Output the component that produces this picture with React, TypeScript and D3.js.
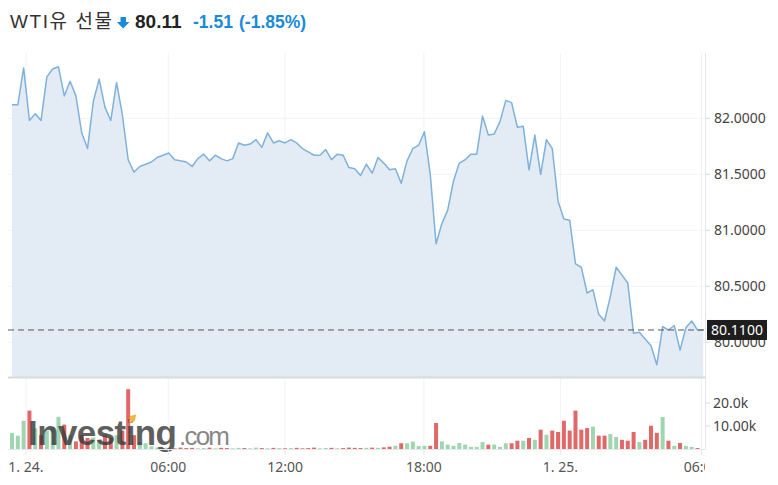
import React from "react";
import * as d3 from "d3";

// ---- data ----
const prices: number[] = [
  82.12, 82.12, 82.45, 81.98, 82.04, 81.98, 82.37, 82.44, 82.46, 82.2,
  82.33, 82.2, 81.87, 81.73, 82.15, 82.35, 82.1, 81.98, 82.32, 82.03,
  81.63, 81.52, 81.57, 81.59, 81.61, 81.65, 81.67, 81.69, 81.63, 81.62,
  81.61, 81.57, 81.64, 81.68, 81.62, 81.67, 81.64, 81.62, 81.64, 81.78,
  81.76, 81.77, 81.81, 81.74, 81.87, 81.78, 81.8, 81.78, 81.81, 81.78,
  81.73, 81.7, 81.67, 81.67, 81.72, 81.63, 81.68, 81.67, 81.56, 81.55,
  81.49, 81.59, 81.51, 81.65, 81.6, 81.54, 81.55, 81.42, 81.62, 81.73,
  81.76, 81.88, 81.5, 80.88, 81.06, 81.18, 81.44, 81.6, 81.63, 81.68,
  81.68, 82.02, 81.85, 81.86, 81.97, 82.16, 82.14, 81.92, 81.93, 81.54,
  81.85, 81.5, 81.81, 81.73, 81.26, 81.1, 81.09, 80.7, 80.67, 80.44,
  80.47, 80.25, 80.19, 80.41, 80.67, 80.6, 80.53, 80.08, 80.09, 80.03,
  79.97, 79.8, 80.14, 80.11, 80.15, 79.93, 80.13, 80.19, 80.11, 80.11,
];

const volumes: number[] = [
  7000, 5800, 12300, 16700, 9000, 6000, 8000, 9500, 14000, 10600,
  6000, 3300, 6000, 4800, 5000, 4000, 6000, 5000, 6000, 8000,
  26000, 6000, 3000, 2500, 1200, 600, 400, 500, 300, 600,
  400, 500, 300, 400, 600, 300, 500, 400, 300, 500,
  400, 300, 600, 400, 300, 500, 400, 300, 400, 500,
  300, 400, 600, 300, 400, 500, 300, 400, 600, 500,
  400, 500, 600, 500, 700, 1000, 1400, 2500, 2500, 3200,
  1300, 1400, 1400, 11300, 3300, 1900, 1400, 2600, 1900, 900,
  900, 3000, 1900, 1900, 900, 2500, 2500, 3600, 3600, 4800,
  4000, 8400, 6200, 8000, 7400, 12300, 8000, 16700, 8400, 9100,
  9700, 5800, 5800, 6500, 5200, 4000, 3600, 7400, 3000, 4000,
  10100, 7000, 13900, 3600, 1400, 2600, 1400, 900, 400, 0,
];

const priceTicks = [80, 80.5, 81, 81.5, 82];
const priceTickLabels = ["80.0000", "80.5000", "81.0000", "81.5000", "82.0000"];
const volumeTicks = [10000, 20000];
const volumeTickLabels = ["10.00k", "20.0k"];
const timeTickPos = [2.4, 26.9, 47.0, 70.9, 94.4, 118.7];
const timeTickLabels = ["1. 24.", "06:00", "12:00", "18:00", "1. 25.", "06:00"];
const lastPrice = 80.11;
const lastPriceLabel = "80.1100";
const titleName = "WTI유 선물";
const titlePrice = "80.11";
const titleChange = "-1.51";
const titleChangePct = "(-1.85%)";

// ---- layout ----
const W = 778;
const H = 485;
const LEFT = 8;
const AXIS_X = 705;
const PRICE_TOP = 53;
const PRICE_BOTTOM = 377;
const VOL_BOTTOM = 449;

export default function App() {
  const x = d3.scaleLinear().domain([0, prices.length - 1]).range([12, 703.3]);
  const y = d3.scaleLinear().domain([80, 82]).range([342.3, 118.3]);
  const yv = d3.scaleLinear().domain([0, 10000]).range([VOL_BOTTOM, 426]);

  const area = d3
    .area<number>()
    .x((_, i) => x(i))
    .y0(PRICE_BOTTOM)
    .y1((d) => y(d));
  const line = d3
    .line<number>()
    .x((_, i) => x(i))
    .y((d) => y(d));

  const axisFont = "'Noto Sans', 'Open Sans', sans-serif";
  const titleFont = "'Liberation Sans', Arial, 'Noto Sans CJK KR', sans-serif";
  const blue = "#1a8ad8";
  const lastY = y(lastPrice);

  return (
    <svg
      width={W}
      height={H}
      style={{ position: "absolute", left: 0, top: 0, background: "#fff" }}
    >
      <defs>
        <clipPath id="axisClip">
          <rect x={0} y={0} width={AXIS_X} height={H} />
        </clipPath>
      </defs>

      {/* title */}
      <g fontFamily={titleFont}>
        <text x={10} y={28} fontSize={19} fill="#333" textLength={102}>
          {titleName}
        </text>
        <path
          d="M120.5 17 h5.5 v5 h3.5 l-6.3 6.5 l-6.3 -6.5 h3.6 z"
          fill={blue}
        />
        <text x={135} y={28} fontSize={19} fontWeight="bold" fill="#222">
          {titlePrice}
        </text>
        <text x={193} y={28} fontSize={17.5} fontWeight="bold" fill={blue}>
          {titleChange}
        </text>
        <text x={239} y={28} fontSize={17.5} fontWeight="bold" fill={blue}>
          {titleChangePct}
        </text>
      </g>

      {/* grid */}
      {priceTicks.map((t) => (
        <line
          key={"hg" + t}
          x1={LEFT}
          x2={AXIS_X}
          y1={y(t)}
          y2={y(t)}
          stroke="#f0f2f5"
        />
      ))}
      {timeTickPos.map((t, i) => (
        <line
          key={"vg" + i}
          x1={x(t)}
          x2={x(t)}
          y1={PRICE_TOP}
          y2={VOL_BOTTOM}
          stroke="#f0f2f5"
        />
      ))}

      {/* price area */}
      <path d={area(prices) || ""} fill="#e3ecf4" />
      <path
        d={line(prices) || ""}
        fill="none"
        stroke="#7fb2da"
        strokeWidth={1.5}
        strokeLinejoin="round"
      />

      {/* last price dashed line */}
      <line
        x1={LEFT}
        x2={AXIS_X}
        y1={lastY}
        y2={lastY}
        stroke="#555"
        strokeWidth={1}
        strokeDasharray="6,4"
      />

      {/* pane separator */}
      <line
        x1={LEFT}
        x2={AXIS_X}
        y1={PRICE_BOTTOM + 0.5}
        y2={PRICE_BOTTOM + 0.5}
        stroke="#d9d9d9"
        strokeWidth={2}
      />

      {/* volume bars */}
      {volumes.map((v, i) => {
        const up = i === 0 || prices[i] >= prices[i - 1];
        const top = yv(v);
        return (
          <rect
            key={"vb" + i}
            x={x(i) - 2}
            y={top}
            width={4}
            height={Math.max(0, VOL_BOTTOM - top)}
            fill={up ? "#9fd5b0" : "#e06868"}
          />
        );
      })}

      {/* watermark */}
      <g opacity={0.8}>
        <text
          x={28}
          y={445}
          fontFamily="'Liberation Sans', Arial, sans-serif"
          fontWeight="bold"
          fontSize={35}
          fill="#383838"
          textLength={149}
        >
          Investing
        </text>
        <text
          x={179}
          y={445}
          fontFamily="'Liberation Sans', Arial, sans-serif"
          fontSize={26}
          fill="#6a6a6a"
          textLength={51}
        >
          .com
        </text>
      </g>
      <path d="M130 416 l6 -1.5 l-1 6.5 l-6 1.5 z" fill="#f5b342" />

      {/* axes lines */}
      <line
        x1={AXIS_X + 0.5}
        x2={AXIS_X + 0.5}
        y1={PRICE_TOP}
        y2={VOL_BOTTOM + 1}
        stroke="#e3e8ef"
      />
      <line
        x1={LEFT}
        x2={AXIS_X}
        y1={VOL_BOTTOM + 0.5}
        y2={VOL_BOTTOM + 0.5}
        stroke="#e3e8ef"
      />

      {/* right price axis */}
      <g fontFamily={axisFont} fontSize={14} fill="#444">
        {priceTicks.map((t, i) => (
          <g key={"pt" + t}>
            <line
              x1={AXIS_X}
              x2={AXIS_X + 5}
              y1={y(t)}
              y2={y(t)}
              stroke="#d8dde4"
            />
            <text x={714} y={y(t)} dy="0.35em">
              {priceTickLabels[i]}
            </text>
          </g>
        ))}
        {volumeTicks.map((t, i) => (
          <g key={"vt" + t}>
            <line
              x1={AXIS_X}
              x2={AXIS_X + 5}
              y1={yv(t)}
              y2={yv(t)}
              stroke="#d8dde4"
            />
            <text x={713} y={yv(t)} dy="0.35em">
              {volumeTickLabels[i]}
            </text>
          </g>
        ))}
      </g>

      {/* last price label (drawn over the 80.0000 tick label, as in the source) */}
      <rect x={707} y={lastY - 10} width={60} height={20} fill="#1e1e1e" />
      <text
        x={737}
        y={lastY}
        dy="0.35em"
        textAnchor="middle"
        fontFamily={axisFont}
        fontSize={14}
        fill="#fff"
      >
        {lastPriceLabel}
      </text>

      {/* bottom time axis */}
      <g clipPath="url(#axisClip)" fontFamily={axisFont} fontSize={14} fill="#555">
        {timeTickPos.map((t, i) => (
          <g key={"tt" + i}>
            <line
              x1={x(t)}
              x2={x(t)}
              y1={VOL_BOTTOM}
              y2={VOL_BOTTOM + 6}
              stroke="#e3e8ef"
            />
            <text x={x(t)} y={467} dy="0.35em" textAnchor="middle">
              {timeTickLabels[i]}
            </text>
          </g>
        ))}
      </g>
    </svg>
  );
}
